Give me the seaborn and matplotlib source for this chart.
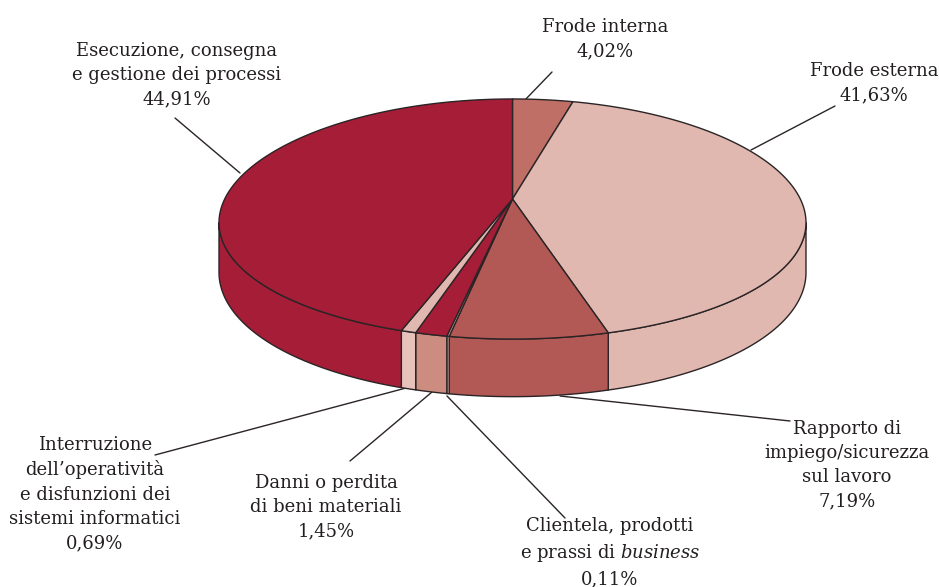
import numpy as np
import matplotlib
matplotlib.use("Agg")
import matplotlib.pyplot as plt
import seaborn as sns

labels = ["Frode interna", "Frode esterna", "Rapporto di\nimpiego/sicurezza\nsul lavoro",
          "Clientela, prodotti\ne prassi di $\\mathit{business}$", "Danni o perdita\ndi beni materiali",
          "Interruzione\ndell’operatività\ne disfunzioni dei\nsistemi informatici",
          "Esecuzione, consegna\ne gestione dei processi"]
values = [4.02, 41.63, 7.19, 0.11, 1.45, 0.69, 44.91]
top_colors = ["#BF6F66", "#E0B8B0", "#B25855", "#DDA79F", "#A51D36", "#E0B8B0", "#A51D36"]
side_colors = ["#BF6F66", "#E0B8B0", "#B25855", "#E0B8B0", "#CC8C80", "#E6C2BB", "#A51D36"]

# posizione del testo e attacco delle linee, in pixel
label_pos = [(605, 39), (874, 83), (847, 465), (610, 553), (326, 507), (95, 494), (177, 75)]
leader_start = [(552, 72), (835, 106), (790, 421), (565, 518), (350, 461), (155, 455), (175, 118)]
leader_end = [(524, 101), (751, 150), (560, 396), (447, 396), (432, 392), (406, 388), (240, 173)]

sns.set_theme(style="white")
plt.rcParams["font.family"] = ["DejaVu Serif"]
plt.rcParams["mathtext.fontset"] = "custom"
plt.rcParams["mathtext.it"] = "DejaVu Serif:italic"
plt.rcParams["mathtext.rm"] = "DejaVu Serif"

INK = "#2B2426"
CX, CY = 512.5, 199
A, B, KX, KY = 287.8, 116.7, 0.196, 0.1667
DEPTH = 48


def rim(t):
    # cerchio in prospettiva, t in radianti in senso orario dall'alto
    return (CX + A * np.sin(t) / (1 + KX * np.cos(t)),
            CY - B * np.cos(t) / (1 + KY * np.cos(t)),
            DEPTH / (1 + KY * np.cos(t)))


fig = plt.figure(figsize=(9.39, 5.87), dpi=100)
ax = fig.add_axes([0, 0, 1, 1])
ax.set_xlim(0, 939)
ax.set_ylim(587, 0)
ax.axis("off")

for start, end in zip(leader_start, leader_end):
    ax.plot([start[0], end[0]], [start[1], end[1]], color=INK, lw=1.0, zorder=1)

edges = np.radians(np.concatenate([[0], np.cumsum(values)]) * 3.6)
side_from = np.arccos(-KX)
side_to = 2 * np.pi - side_from

for i in range(len(values)):
    lo, hi = max(edges[i], side_from), min(edges[i + 1], side_to)
    if lo >= hi:
        continue
    t = np.linspace(lo, hi, 80)
    x, y, d = rim(t)
    ax.fill(np.r_[x, x[::-1]], np.r_[y, (y + d)[::-1]], facecolor=side_colors[i],
            edgecolor=INK, lw=1.0, joinstyle="round", zorder=2)

for i in range(len(values)):
    t = np.linspace(edges[i], edges[i + 1], 200)
    x, y, _ = rim(t)
    ax.fill(np.r_[CX, x], np.r_[CY, y], facecolor=top_colors[i],
            edgecolor=INK, lw=1.0, joinstyle="round", zorder=3)

for name, value, pos in zip(labels, values, label_pos):
    text = name + "\n" + f"{value:.2f}".replace(".", ",") + "%"
    ax.text(pos[0], pos[1], text, ha="center", va="center", fontsize=13,
            color="#231F20", linespacing=1.45, zorder=4)

fig.savefig("out.png", dpi=100)
